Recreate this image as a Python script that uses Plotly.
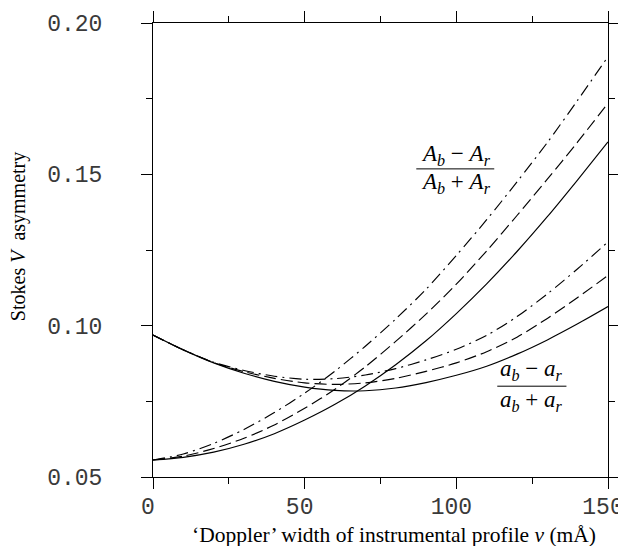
import plotly.graph_objects as go

# ---- data ----
doppler_width = [0, 10, 20, 30, 40, 50, 60, 70, 80, 90, 100, 110, 120, 130, 140, 150]

A_solid   = [0.0556, 0.0565, 0.0582, 0.0608, 0.0643, 0.0688, 0.0740, 0.0801, 0.0871, 0.0950,
             0.1040, 0.1138, 0.1245, 0.1360, 0.1482, 0.1607]
A_dashed  = [0.0556, 0.0569, 0.0594, 0.0628, 0.0672, 0.0727, 0.0790, 0.0864, 0.0948, 0.1038,
             0.1137, 0.1247, 0.1364, 0.1484, 0.1607, 0.1735]
A_dashdot = [0.0556, 0.0576, 0.0611, 0.0657, 0.0713, 0.0777, 0.0850, 0.0932, 0.1022, 0.1120,
             0.1232, 0.1350, 0.1475, 0.1605, 0.1745, 0.1889]

a_solid   = [0.0969, 0.0920, 0.0877, 0.0843, 0.0816, 0.0797, 0.0786, 0.0785, 0.0794, 0.0812,
             0.0836, 0.0866, 0.0906, 0.0953, 0.1006, 0.1063]
a_dashed  = [0.0969, 0.0920, 0.0878, 0.0848, 0.0826, 0.0811, 0.0806, 0.0811, 0.0826, 0.0849,
             0.0877, 0.0914, 0.0962, 0.1024, 0.1093, 0.1166]
a_dashdot = [0.0969, 0.0920, 0.0879, 0.0852, 0.0833, 0.0823, 0.0825, 0.0837, 0.0858, 0.0887,
             0.0922, 0.0968, 0.1030, 0.1105, 0.1188, 0.1277]

x_tickvals = [0, 50, 100, 150]
x_ticktext = ["0", "50", "100", "150"]
y_tickvals = [0.05, 0.10, 0.15, 0.20]
y_ticktext = ["0.05", "0.10", "0.15", "0.20"]

x_title = "‘Doppler’ width of instrumental profile <i>v</i> (mÅ)"
y_title = "Stokes <i>V</i>  asymmetry"
label_upper_num = "<i>A</i><sub><i>b</i></sub> − <i>A</i><sub><i>r</i></sub>"
label_upper_den = "<i>A</i><sub><i>b</i></sub> + <i>A</i><sub><i>r</i></sub>"
label_lower_num = "<i>a</i><sub><i>b</i></sub> − <i>a</i><sub><i>r</i></sub>"
label_lower_den = "<i>a</i><sub><i>b</i></sub> + <i>a</i><sub><i>r</i></sub>"

SOLID = "solid"
DASH = "12px,5px"
DASHDOT = "12px,5px,2px,5px"

fig = go.Figure()
for ys, dash in [(A_solid, SOLID), (A_dashed, DASH), (A_dashdot, DASHDOT),
                 (a_solid, SOLID), (a_dashed, DASH), (a_dashdot, DASHDOT)]:
    fig.add_trace(go.Scatter(x=doppler_width, y=ys, mode="lines",
                             line=dict(color="black", width=1.15, dash=dash, shape="spline", smoothing=0.8),
                             showlegend=False, hoverinfo="skip"))

serif = "Liberation Serif"
mono = "Liberation Mono"

axis_common = dict(showline=True, linecolor="black", linewidth=1, mirror="ticks",
                   ticks="outside", ticklen=11, tickcolor="black", tickwidth=1,
                   showgrid=False, zeroline=False, automargin=False, ticklabeloverflow="allow",
                   tickfont=dict(family=mono, size=23, color="#3a3a3a"))

fig.update_xaxes(range=[0, 150], tickvals=x_tickvals, ticktext=x_ticktext,
                 minor=dict(tickvals=[25, 75, 125], ticklen=6, ticks="outside", tickcolor="black"),
                 ticklabelstandoff=-3, ticklabelshift=-5, **axis_common)
fig.update_yaxes(range=[0.05, 0.20], tickvals=y_tickvals, ticktext=y_ticktext,
                 minor=dict(tickvals=[0.075, 0.125, 0.175], ticklen=6, ticks="outside", tickcolor="black"),
                 ticklabelstandoff=34, **axis_common)

annotations = [
    dict(text=x_title, xref="paper", yref="paper", x=0.53, y=-0.128, xanchor="center", yanchor="middle",
         showarrow=False, font=dict(family=serif, size=21.5, color="black")),
    dict(text=y_title, xref="paper", yref="paper", x=-0.295, y=0.53, xanchor="center", yanchor="middle",
         textangle=-90, showarrow=False, font=dict(family=serif, size=20, color="black")),
    dict(text=label_upper_num, x=99.8, y=0.1563, xanchor="center", yanchor="middle", showarrow=False,
         font=dict(family=serif, size=23, color="black")),
    dict(text=label_upper_den, x=99.8, y=0.1470, xanchor="center", yanchor="middle", showarrow=False,
         font=dict(family=serif, size=23, color="black")),
    dict(text=label_lower_num, x=124.9, y=0.0852, xanchor="center", yanchor="middle", showarrow=False,
         font=dict(family=serif, size=23, color="black")),
    dict(text=label_lower_den, x=124.9, y=0.0752, xanchor="center", yanchor="middle", showarrow=False,
         font=dict(family=serif, size=23, color="black")),
]

shapes = [
    dict(type="line", x0=86.8, x1=112.5, y0=0.1518, y1=0.1518, line=dict(color="black", width=1)),
    dict(type="line", x0=113.5, x1=136.3, y0=0.0800, y1=0.0800, line=dict(color="black", width=1)),
]

# the page body adds an 8px margin, so margins are reduced by 8px to place the plot where the reference has it
fig.update_layout(width=626, height=546, margin=dict(l=145, r=26, t=15, b=77),
                  plot_bgcolor="white", paper_bgcolor="white",
                  annotations=annotations, shapes=shapes)

fig.write_html("out.html")
